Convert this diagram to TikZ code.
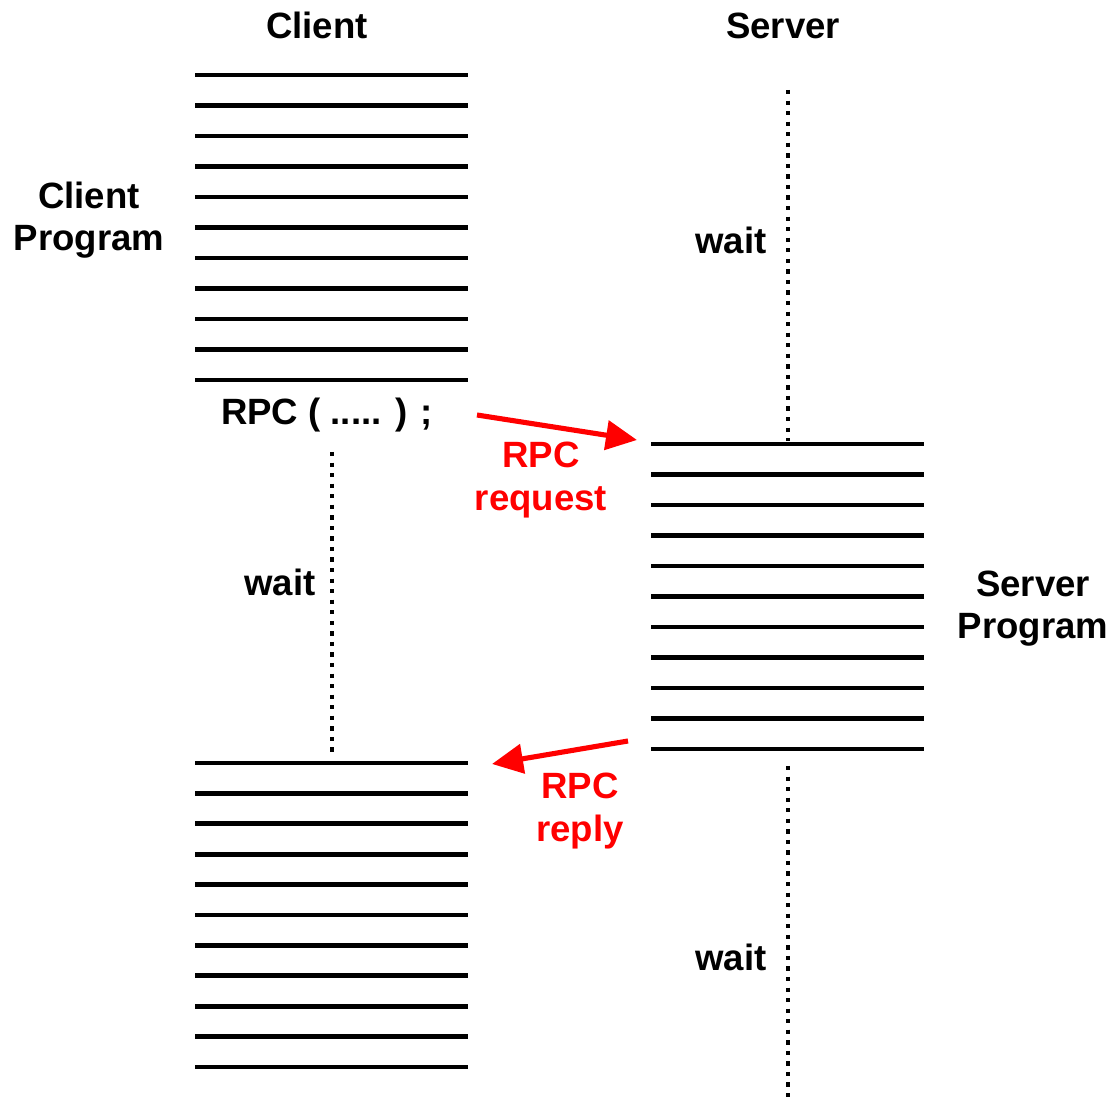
\documentclass[tikz,border=0pt]{standalone}
\usepackage{fontspec}
\setmainfont{Liberation Sans}
\usetikzlibrary{arrows.meta}

\begin{document}
\begin{tikzpicture}[x=0.01cm,y=-0.01cm,
    every node/.style={font=\bfseries\fontsize{10.4}{12}\selectfont, align=center, inner sep=0pt},
    codeline/.style={line width=1.4pt},
    waitline/.style={line width=1.25pt, dash pattern=on 1.2pt off 1.8pt},
    rpcarrow/.style={red, line width=1.45pt, -{Triangle[length=0.31cm,width=0.29cm]}},
    rpclabel/.style={text=red}]

    \useasboundingbox (0,0) rectangle (1112,1098);

    % Column titles
    \node[anchor=base] (clienttitle) at (317,39) {Client};
    \node[anchor=base] (servertitle) at (783,39) {Server};

    % Client program up to the call
    \foreach \y in {0,...,10} {
        \draw[codeline] (195,75+30.5*\y) -- (468,75+30.5*\y);
    }
    \node (clientprog) at (89,220) {Client\\Program};
    \node[anchor=base] (rpccall) at (327,425) {RPC ( ..... ) ;};

    % Client blocked
    \coordinate (cwaittop) at (332,452);
    \coordinate (cwaitbot) at (332,752);
    \draw[waitline] (cwaittop) -- (cwaitbot);
    \node[anchor=base] (cwait) at (280,596) {wait};

    % Client program after the reply
    \foreach \y in {0,...,10} {
        \draw[codeline] (195,763+30.4*\y) -- (468,763+30.4*\y);
    }

    % Server waiting before and after
    \coordinate (swaittop) at (788,90);
    \coordinate (swaitmid) at (788,441);
    \draw[waitline] (swaittop) -- (swaitmid);
    \node[anchor=base] (swait1) at (731,254) {wait};
    \coordinate (swaitlow) at (788,766);
    \coordinate (swaitend) at (788,1098);
    \draw[waitline] (swaitlow) -- (swaitend);
    \node[anchor=base] (swait2) at (731,971) {wait};

    % Server program
    \foreach \y in {0,...,10} {
        \draw[codeline] (651,444+30.5*\y) -- (924,444+30.5*\y);
    }
    \node (serverprog) at (1033,609) {Server\\Program};

    % Request and reply
    \coordinate (reqfrom) at (477,415);
    \coordinate (reqto) at (637,440);
    \draw[rpcarrow] (reqfrom) -- (reqto);
    \node[rpclabel] (reqlbl) at (541,480) {RPC\\request};

    \coordinate (repfrom) at (628,741);
    \coordinate (repto) at (492,764);
    \draw[rpcarrow] (repfrom) -- (repto);
    \node[rpclabel] (replbl) at (580,811) {RPC\\reply};

\end{tikzpicture}
\end{document}
